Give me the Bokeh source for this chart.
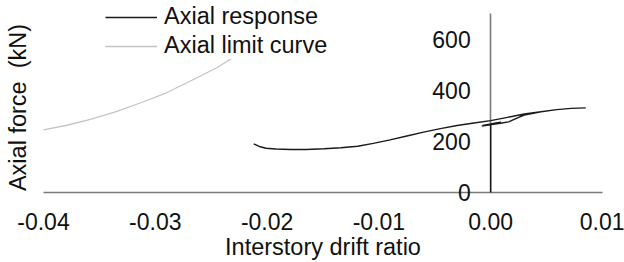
import math
from bokeh.plotting import figure
from bokeh.models import Legend, LegendItem, FixedTicker, Range1d, Label
from bokeh.embed import file_html
from bokeh.resources import INLINE

# ---- data ----
limit_x = [-0.0400, -0.0380, -0.0358, -0.0335, -0.0313, -0.0290, -0.0269, -0.0245, -0.0224, -0.0205, -0.0188, -0.0175]
limit_y = [245, 262, 286, 316, 351, 390, 435, 488, 545, 605, 665, 715]

resp_x = [0.0, 0.0, 0.0006, -0.0007, 0.0009, -0.0008, 0.0010, 0.0016, 0.0024, 0.0030, 0.0045, 0.0059,
          0.0072, 0.0085, 0.0072, 0.0059, 0.0045, 0.0030, 0.0015, 0.0, -0.0015, -0.0030, -0.0045,
          -0.0060, -0.0075, -0.0090, -0.0105, -0.0119, -0.0134, -0.0149, -0.0165, -0.0179, -0.0192,
          -0.0201, -0.0207, -0.0212]
resp_y = [0, 268, 273, 262, 275, 260, 272, 276, 292, 303, 316, 324,
          329, 331, 329, 324, 316, 307, 294, 281, 272, 262, 250,
          236, 221, 206, 192, 181, 175, 171, 168, 168, 170,
          173, 180, 190]

x_ticks = [-0.04, -0.03, -0.02, -0.01, 0.0, 0.01]
x_tick_labels = ["-0.04", "-0.03", "-0.02", "-0.01", "0.00", "0.01"]
y_ticks = [0, 200, 400, 600]
x_axis_bounds = (-0.04, 0.01)
y_axis_bounds = (0, 700)

FONT = "Liberation Sans"
TXT = "#111111"
AXIS_GRAY = "#7a7a7a"

# ---- layout: plot area covers the whole canvas; axes cross at the origin ----
W, H = 624, 262
PX_X0, PX_X1 = 43, 602      # pixel columns of x = -0.04 and x = 0.01
PX_Y0, PX_Y1 = 192, 13      # pixel rows of y = 0 and y = 700
sx = (PX_X1 - PX_X0) / (x_axis_bounds[1] - x_axis_bounds[0])
sy = (PX_Y0 - PX_Y1) / (y_axis_bounds[1] - y_axis_bounds[0])
def px_to_x(px): return x_axis_bounds[0] + (px - PX_X0) / sx
def px_to_y(py): return y_axis_bounds[0] + (PX_Y0 - py) / sy

p = figure(width=W, height=H, output_backend="svg", toolbar_location=None,
           x_range=Range1d(px_to_x(0), px_to_x(W)), y_range=Range1d(px_to_y(H), px_to_y(0)),
           min_border=0)
p.outline_line_color = None
p.grid.visible = False
p.background_fill_color = "white"

r_resp = p.line(resp_x, resp_y, line_color="#1a1a1a", line_width=1.4)
r_lim = p.line(limit_x, limit_y, line_color="#c4c4c4", line_width=1.3)

# x axis through y = 0
xa = p.xaxis[0]
xa.fixed_location = 0
xa.bounds = x_axis_bounds
xa.ticker = FixedTicker(ticks=x_ticks)
xa.major_label_overrides = {t: l for t, l in zip(x_ticks, x_tick_labels)}
xa.major_tick_out = 0
xa.major_tick_in = 0
xa.minor_tick_out = 0
xa.minor_tick_in = 0
xa.major_label_standoff = 20
xa.axis_line_color = AXIS_GRAY
xa.axis_line_width = 1.6
xa.major_label_text_font = FONT
xa.major_label_text_font_size = "23px"
xa.major_label_text_color = TXT
xa.axis_label = "Interstory drift ratio"
xa.axis_label_text_font = FONT
xa.axis_label_text_font_size = "23.5px"
xa.axis_label_text_font_style = "normal"
xa.axis_label_text_color = TXT
xa.axis_label_standoff = 1
xa.level = "underlay"

# y axis through x = 0
ya = p.yaxis[0]
ya.fixed_location = 0
ya.bounds = y_axis_bounds
ya.ticker = FixedTicker(ticks=y_ticks)
ya.major_tick_out = 0
ya.major_tick_in = 0
ya.minor_tick_out = 0
ya.minor_tick_in = 0
ya.major_label_standoff = 20
ya.axis_line_color = AXIS_GRAY
ya.axis_line_width = 1.6
ya.major_label_text_font = FONT
ya.major_label_text_font_size = "23px"
ya.major_label_text_color = TXT
ya.level = "underlay"

# y axis title at the left edge
p.add_layout(Label(x=px_to_x(17.5), y=px_to_y(107), text="Axial force \u00a0(kN)", angle=math.pi / 2,
                   text_align="center", text_baseline="middle", text_font=FONT,
                   text_font_size="23.5px", text_color=TXT))

legend = Legend(items=[LegendItem(label="Axial response", renderers=[r_resp]),
                       LegendItem(label="Axial limit curve", renderers=[r_lim])],
                location=(105, 203), margin=0, padding=0, spacing=2,
                glyph_width=52, label_standoff=7, border_line_alpha=0,
                background_fill_color="white", background_fill_alpha=1,
                label_text_font=FONT, label_text_font_size="23.5px", label_text_color=TXT)
p.add_layout(legend, "center")

open("out.html", "w").write(file_html(p, INLINE))
